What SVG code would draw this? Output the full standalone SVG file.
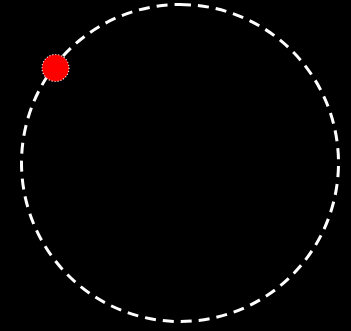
<svg xmlns="http://www.w3.org/2000/svg" width="351" height="331" viewBox="0 0 351 331">
<style>
.orbit{fill:none;stroke:#fff;stroke-width:3;stroke-dasharray:11 7}
.ball{fill:#f00;stroke:#fff;stroke-width:1.2;stroke-dasharray:1 2}
</style>
<rect width="351" height="331" fill="#000"/>
<g id="orbit"><path class="orbit" d="M180,4.5 A158.5,158.5 0 0 1 180,321.5 A158.5,158.5 0 0 1 180,4.5"/></g>
<g id="ball"><circle class="ball" cx="55.5" cy="68" r="13.5"/></g>
</svg>
